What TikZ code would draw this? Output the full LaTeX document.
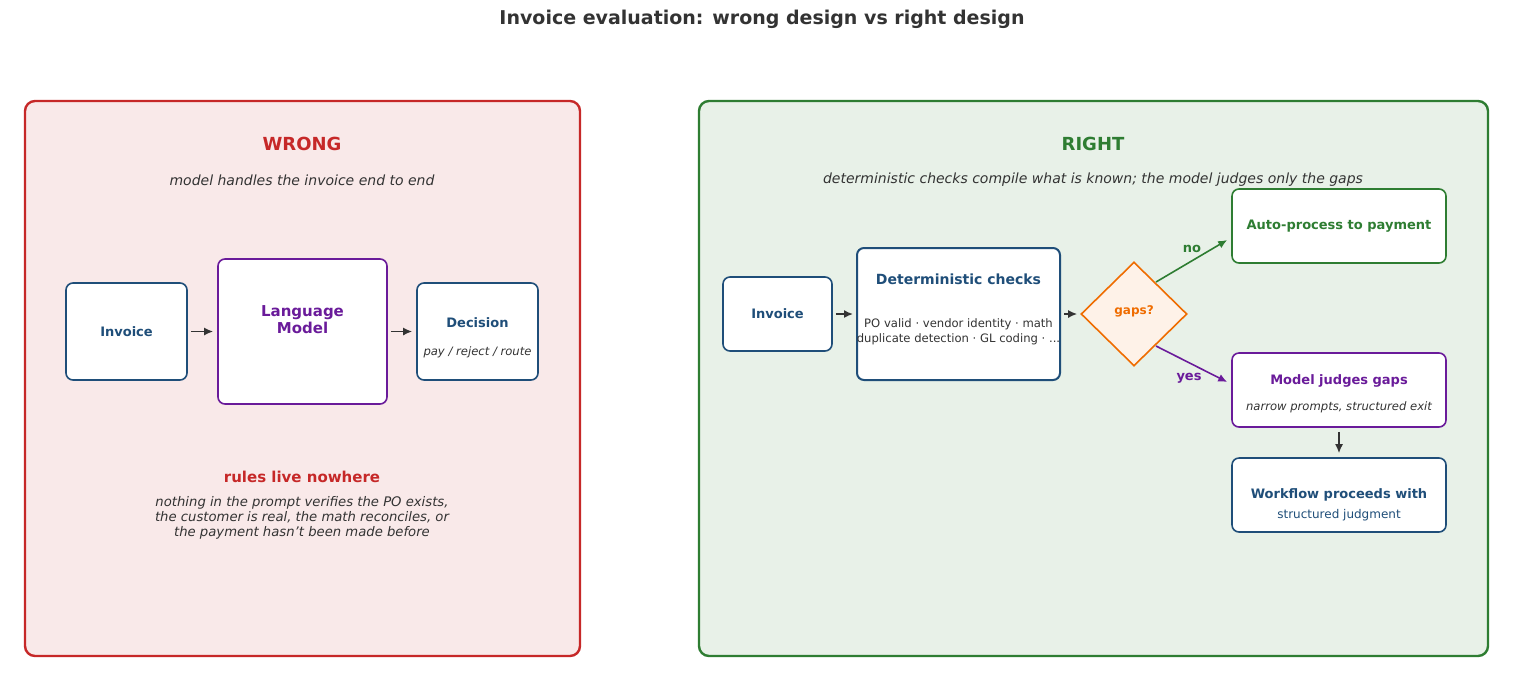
\documentclass[tikz,border=0pt]{standalone}
\usepackage{fontspec}
\setmainfont{DejaVu Sans}
\usetikzlibrary{arrows.meta,shapes.geometric}
\definecolor{tblue}{HTML}{1F4E79}
\definecolor{tred}{HTML}{C62828}
\definecolor{tgreen}{HTML}{2E7D32}
\definecolor{tpurple}{HTML}{6A1B9A}
\definecolor{torange}{HTML}{EF6C00}
\definecolor{tgray}{HTML}{333333}
\begin{document}
\begin{tikzpicture}[x=0.5pt,y=-0.5pt,
  panel/.style={rounded corners=5pt,line width=1.2pt},
  box/.style={draw=#1,rounded corners=3.5pt,line width=0.8pt,fill=white,inner sep=0pt},
  arr/.style={-{Latex[length=4.5pt,width=4pt]},line width=0.8pt,draw=tgray},
  lbl/.style={font=\fontsize{6.5}{8}\selectfont\bfseries}]
\useasboundingbox (0,0) rectangle (1513,681);
\node[font=\fontsize{9.5}{11}\selectfont\bfseries,text=tgray] (title) at (762,19) {Invoice evaluation: wrong design vs right design};
% panels
\draw[panel,draw=tred,fill=tred!10] (25,101) rectangle (580,656);
\draw[panel,draw=tgreen,fill=tgreen!11] (699,101) rectangle (1488,656);
% left
\node[font=\fontsize{9}{11}\selectfont\bfseries,text=tred] (wt) at (302,144) {WRONG};
\node[font=\fontsize{7}{9}\selectfont\itshape,text=tgray] (ws) at (302,180) {model handles the invoice end to end};
\node[box=tblue,minimum width=60.5pt,minimum height=48.5pt] (inv1) at (126.5,331.5) {};
\node[lbl,text=tblue] at (inv1) {Invoice};
\node[box=tpurple,minimum width=84.5pt,minimum height=72.5pt] (lm) at (302.5,331.5) {};
\node[font=\fontsize{7.5}{8.5}\selectfont\bfseries,text=tpurple,align=center] (lmt) at (302.5,320) {Language\\Model};
\node[box=tblue,minimum width=60.5pt,minimum height=48.5pt] (dec) at (477.5,331.5) {};
\node[lbl,text=tblue] (dect) at (477.5,323) {Decision};
\node[font=\fontsize{5.8}{7}\selectfont\itshape,text=tgray] (decs) at (477.5,352) {pay / reject / route};
\draw[arr,shorten <=1.5pt,shorten >=2pt] (inv1) -- (lm);
\draw[arr,shorten <=1.5pt,shorten >=2pt] (lm) -- (dec);
\node[font=\fontsize{7.5}{9}\selectfont\bfseries,text=tred] (rl) at (302,477) {rules live nowhere};
\node[font=\fontsize{6.6}{7.5}\selectfont\itshape,text=tgray,align=center] (rp) at (302,518) {nothing in the prompt verifies the PO exists,\\the customer is real, the math reconciles, or\\the payment hasn{\char"27}t been made before};
% right
\node[font=\fontsize{9}{11}\selectfont\bfseries,text=tgreen] (rt) at (1093,144) {RIGHT};
\node[font=\fontsize{7}{9}\selectfont\itshape,text=tgray] (rs) at (1093,180) {deterministic checks compile what is known; the model judges only the gaps};
\node[box=tblue,minimum width=54.5pt,minimum height=37pt] (inv2) at (777.5,314) {};
\node[lbl,text=tblue] at (inv2) {Invoice};
\node[box=tblue,line width=1pt,minimum width=101.5pt,minimum height=66pt] (det) at (958.5,314) {};
\node[font=\fontsize{7}{9}\selectfont\bfseries,text=tblue] at (958.5,279) {Deterministic checks};
\node[font=\fontsize{5.8}{7.5}\selectfont,text=tgray,align=center] at (958.5,331.5) {PO valid · vendor identity · math\\duplicate detection · GL coding · ...};
\node[diamond,draw=torange,fill=torange!9,line width=0.8pt,minimum width=53pt,minimum height=52pt,inner sep=0pt] (gap) at (1134,314) {};
\node[font=\fontsize{6}{7}\selectfont\bfseries,text=torange] at (1134,311) {gaps?};
\node[box=tgreen,minimum width=107pt,minimum height=37pt] (auto) at (1339,226) {};
\node[lbl,text=tgreen] at (auto) {Auto-process to payment};
\node[box=tpurple,minimum width=107pt,minimum height=37pt] (mj) at (1339,390) {};
\node[lbl,text=tpurple] at (1339,381) {Model judges gaps};
\node[font=\fontsize{5.8}{7}\selectfont\itshape,text=tgray] at (1339,407) {narrow prompts, structured exit};
\node[box=tblue,minimum width=107pt,minimum height=37pt] (wf) at (1339,495) {};
\node[lbl,text=tblue] at (1339,495) {Workflow proceeds with};
\node[font=\fontsize{6}{7}\selectfont,text=tblue] at (1339,515) {structured judgment};
\draw[arr,shorten <=1.5pt,shorten >=1.5pt] (inv2) -- (det);
\draw[arr,shorten <=1.5pt,shorten >=1.5pt] (det) -- (gap);
\coordinate (ga) at (1156,282);
\coordinate (gb) at (1156,346);
\draw[arr,draw=tgreen] (ga) -- ([xshift=-2pt]auto.west|-1,240);
\node[lbl,text=tgreen] (nolbl) at (1192,249) {no};
\draw[arr,draw=tpurple] (gb) -- ([xshift=-2pt]mj.west|-1,382);
\node[lbl,text=tpurple] (yeslbl) at (1189,378) {yes};
\draw[arr] ([yshift=-2pt]mj.south) -- ([yshift=2pt]wf.north);
\end{tikzpicture}
\end{document}
